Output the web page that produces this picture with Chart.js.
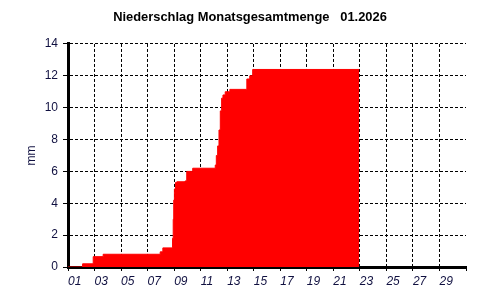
<!DOCTYPE html>
<html>
<head>
<meta charset="utf-8">
<script src="https://cdn.jsdelivr.net/npm/chart.js@4/dist/chart.umd.min.js"></script>
<style>
  html, body { margin: 0; padding: 0; background: #fff; }
  #wrap { width: 500px; height: 300px; }
</style>
</head>
<body>
<div id="wrap"><canvas id="rainChart" width="500" height="300"></canvas></div>
<script>
// day of month (fractional) at which the monthly total reached the value
var dayPos = [1, 2.1, 2.9, 3.65, 7.95, 8.15, 8.88, 8.93, 8.97, 9.02, 9.1, 9.2,
  9.82, 9.95, 10.4, 12.1, 12.18, 12.28, 12.38, 12.48, 12.58, 12.68, 12.85,
  13.2, 14.48, 14.7, 14.92, 22.95];
var mmTotal = [0, 0.2, 0.65, 0.8, 0.95, 1.2, 1.8, 3.0, 4.2, 4.9, 5.3, 5.35,
  5.4, 6.0, 6.2, 6.4, 7.0, 7.6, 8.6, 9.8, 10.6, 10.8, 11.0,
  11.15, 11.8, 12.0, 12.4, 12.4];

var tickDays = [1, 3, 5, 7, 9, 11, 13, 15, 17, 19, 21, 23, 25, 27, 29, 31];
var xTickLabels = ["01", "03", "05", "07", "09", "11", "13", "15", "17",
  "19", "21", "23", "25", "27", "29"];

var labelColor = "#101040";
var fontFam = "'Liberation Sans', Arial, sans-serif";

var points = dayPos.map(function (d, i) {
  return { x: d, y: mmTotal[i] };
});

var ctx = document.getElementById("rainChart").getContext("2d");
var myChart = new Chart(ctx, {
  type: "line",
  data: {
    datasets: [
      {
        label: "Niederschlag",
        data: points,
        stepped: "before",
        fill: "origin",
        backgroundColor: "#ff0000",
        borderColor: "#ff0000",
        borderWidth: 1,
        pointRadius: 0,
      },
    ],
  },
  options: {
    responsive: false,
    animation: false,
    layout: { padding: { left: 17, right: 17, top: 0, bottom: 0 } },
    plugins: {
      legend: { display: false },
      tooltip: { enabled: false },
      title: {
        display: true,
        text: "Niederschlag Monatsgesamtmenge   01.2026",
        color: "#000",
        font: { family: fontFam, size: 12.9, weight: "bold" },
        padding: { top: 10, bottom: 18.5 },
      },
    },
    scales: {
      x: {
        type: "linear",
        min: 1,
        max: 31,
        afterBuildTicks: function (scale) {
          scale.ticks = tickDays.map(function (v) { return { value: v }; });
        },
        afterFit: function (scale) { scale.height = 33; },
        ticks: {
          align: "start",
          maxRotation: 0,
          autoSkip: false,
          padding: 3,
          color: labelColor,
          font: { family: fontFam, size: 12, style: "italic" },
          callback: function (v, i) { return xTickLabels[i] || ""; },
        },
        grid: {
          color: function (c) {
            return c.tick && c.tick.value === 31 ? "rgba(0,0,0,0)" : "#000";
          },
          lineWidth: 1,
          tickLength: 4,
          tickColor: "#000",
          tickBorderDash: [],
        },
        border: { display: true, color: "#000", width: 3, dash: [3, 2] },
      },
      y: {
        min: 0,
        max: 14,
        afterFit: function (scale) { scale.width = 51; },
        ticks: {
          stepSize: 2,
          padding: 5,
          color: labelColor,
          font: { family: fontFam, size: 12 },
        },
        title: {
          display: true,
          text: "mm",
          color: labelColor,
          font: { family: fontFam, size: 12 },
          padding: { top: 7, bottom: 0 },
        },
        grid: {
          color: "#000",
          lineWidth: 1,
          tickLength: 5,
          tickColor: "#000",
          tickBorderDash: [],
        },
        border: { display: true, color: "#000", width: 3, dash: [3, 2] },
      },
      // empty right-hand strip so the title is centred on the whole page
      yRight: {
        position: "right",
        min: 0,
        max: 14,
        afterFit: function (scale) { scale.width = 17; },
        ticks: { display: false },
        grid: { display: false, drawOnChartArea: false },
        border: { display: false },
      },
    },
  },
});
</script>
</body>
</html>
